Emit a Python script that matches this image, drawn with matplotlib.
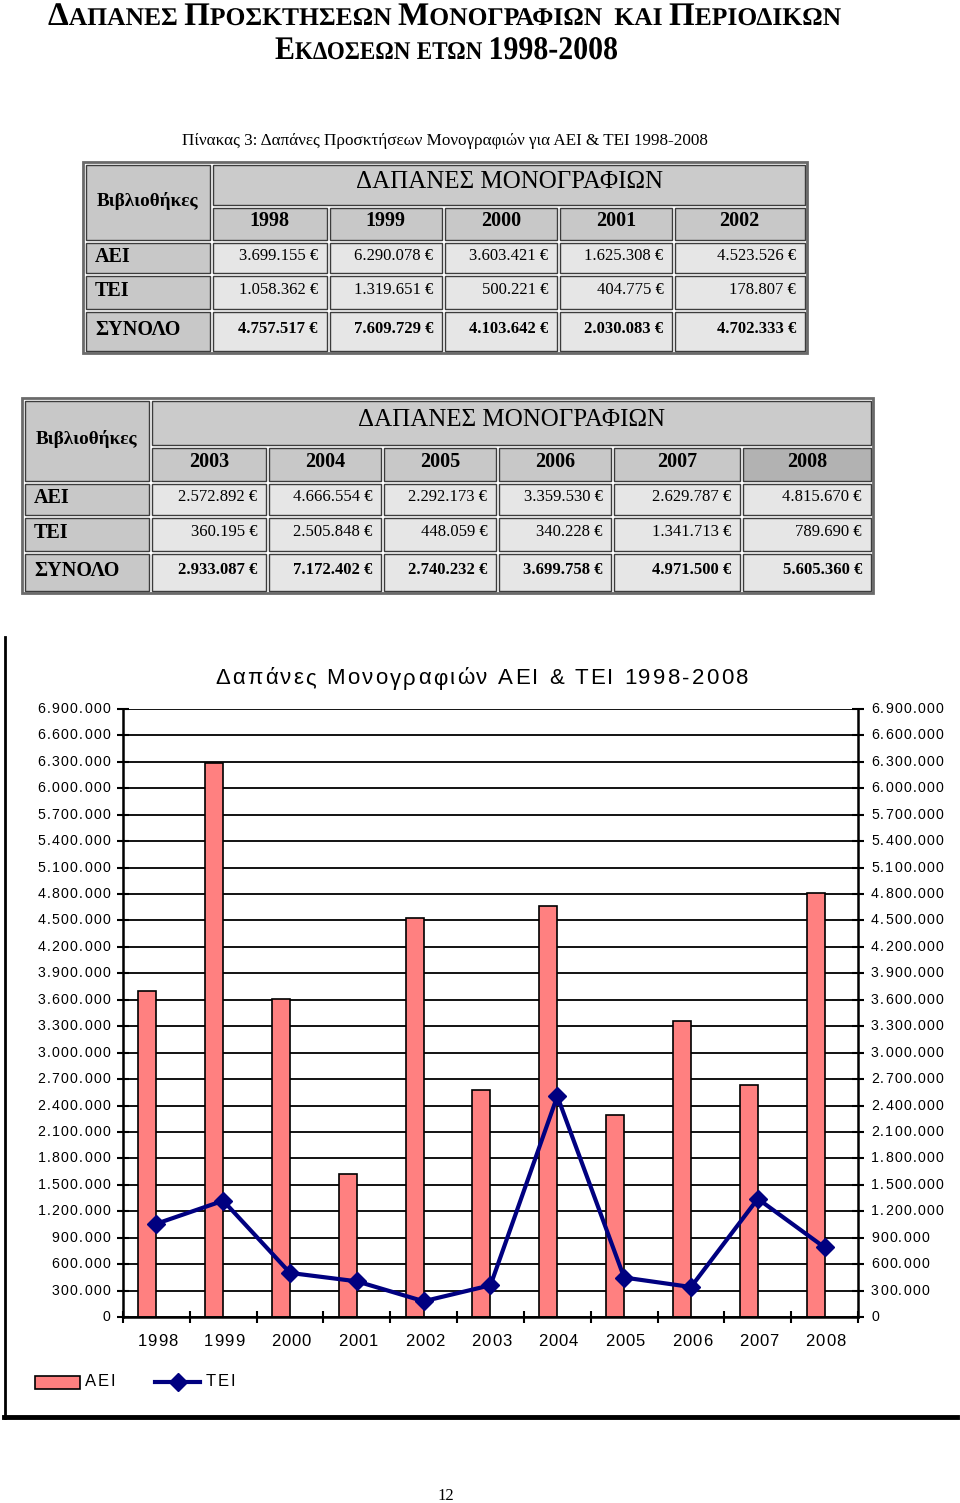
import matplotlib

matplotlib.use('Agg')
import matplotlib.pyplot as plt
from matplotlib.patches import Rectangle, PathPatch
from matplotlib.textpath import TextPath
from matplotlib.font_manager import FontProperties, findfont, get_font
from matplotlib.transforms import Affine2D

# Δεδομένα πινάκων (ευρώ), όπως τυπώνονται στη σελίδα
years_a = ["1998", "1999", "2000", "2001", "2002"]
aei_a = [3699155, 6290078, 3603421, 1625308, 4523526]
tei_a = [1058362, 1319651, 500221, 404775, 178807]
total_a = [4757517, 7609729, 4103642, 2030083, 4702333]

years_b = ["2003", "2004", "2005", "2006", "2007", "2008"]
aei_b = [2572892, 4666554, 2292173, 3359530, 2629787, 4815670]
tei_b = [360195, 2505848, 448059, 340228, 1341713, 789690]
total_b = [2933087, 7172402, 2740232, 3699758, 4971500, 5605360]

row_labels = ["ΑΕΙ", "ΤΕΙ", "ΣΥΝΟΛΟ"]
y_ticks = list(range(0, 6900001, 300000))

SERIF = "Liberation Serif"
SANS = "Liberation Sans"
H = 1503


def euro(v):
    return f"{v:,}".replace(",", ".") + " €"


def dotted(v):
    return f"{int(v):,}".replace(",", ".")


def advance(s, size_px, prop):
    font = get_font(findfont(prop))
    font.set_size(size_px, 72)
    return sum(font.load_char(ord(c)).linearHoriAdvance / 65536 for c in s)


fig = plt.figure(figsize=(9.6, 15.03), dpi=100)
bg = fig.add_axes([0, 0, 1, 1])
bg.set_xlim(0, 960)
bg.set_ylim(H, 0)
bg.axis('off')


# Τίτλος σελίδας: μικρά κεφαλαία, στενή γραμματοσειρά
def title_line(segments, cx, baseline, target_w):
    prop = FontProperties(family=SERIF, weight='bold')
    parts, x = [], 0
    for s, size in segments:
        if s == " ":
            x += 0.25 * size
            continue
        parts.append(TextPath((x, 0), s, size=size, prop=prop))
        x += advance(s, size, prop)
    sx = target_w / x
    tr = Affine2D().scale(sx, -1).translate(cx - target_w / 2, baseline)
    for p in parts:
        bg.add_patch(PathPatch(tr.transform_path(p), fc='black', ec='none'))


B, S = 33, 25.5
line1 = [("Δ", B), ("ΑΠΑΝΕΣ", S), (" ", S), ("Π", B), ("ΡΟΣΚΤΗΣΕΩΝ", S), (" ", S),
         ("Μ", B), ("ΟΝΟΓΡΑΦΙΩΝ", S), (" ", S), ("ΚΑΙ", S), (" ", S), ("Π", B), ("ΕΡΙΟΔΙΚΩΝ", S)]
line2 = [("Ε", B), ("ΚΔΟΣΕΩΝ", S), (" ", S), ("ΕΤΩΝ", S), (" ", S), ("1998-2008", B)]
title_line(line1, 445, 25, 794)
title_line(line2, 446.5, 59, 343)

bg.text(445, 141, "Πίνακας 3: Δαπάνες Προσκτήσεων Μονογραφιών για ΑΕΙ & ΤΕΙ 1998-2008",
        fontsize=12.3, family=SERIF, ha='center', va='center')


def cell(x0, x1, y0, y1, color):
    bg.add_patch(Rectangle((x0 + 1.5, y0 + 1.5), x1 - x0 - 3, y1 - y0 - 3,
                           facecolor=color, edgecolor='#3c3c3c', lw=1.0))


def draw_table(cols, rows, years, aei, tei, totals):
    bg.add_patch(Rectangle((cols[0], rows[0]), cols[-1] - cols[0], rows[-1] - rows[0],
                           facecolor='white', edgecolor='#6a6a6a', lw=2))
    x0, x1 = cols[0] + 1, cols[1]
    cell(x0, x1, rows[0] + 1, rows[2], '#c8c8c8')
    bg.text((x0 + x1) / 2, (rows[0] + rows[2]) / 2 - 1, "Βιβλιοθήκες", fontsize=13.8,
            family=SERIF, fontweight='bold', ha='center', va='center')
    cell(cols[1], cols[-1] - 1, rows[0] + 1, rows[1], '#cbcbcb')
    bg.text((cols[1] + cols[-1]) / 2, (rows[0] + rows[1]) / 2 - 2, "ΔΑΠΑΝΕΣ ΜΟΝΟΓΡΑΦΙΩΝ",
            fontsize=18, family=SERIF, ha='center', va='center')
    n = len(years)
    for i in range(n):
        cx0, cx1 = cols[i + 1], cols[i + 2] - (1 if i == n - 1 else 0)
        col = '#b2b2b2' if years[i] == "2008" else '#c8c8c8'
        cell(cx0, cx1, rows[1], rows[2], col)
        bg.text((cx0 + cx1) / 2, (rows[1] + rows[2]) / 2 - 2, years[i], fontsize=14.5,
                family=SERIF, fontweight='bold', ha='center', va='center')
    for r, (lab, vals) in enumerate(zip(row_labels, [aei, tei, totals])):
        ry0, ry1 = rows[r + 2], rows[r + 3] - (1 if r == 2 else 0)
        cell(x0, x1, ry0, ry1, '#c8c8c8')
        bg.text(x0 + 11, (ry0 + ry1) / 2 - 1, lab, fontsize=14.5, family=SERIF,
                fontweight='bold', ha='left', va='center')
        for i, v in enumerate(vals):
            cx0, cx1 = cols[i + 1], cols[i + 2] - (1 if i == n - 1 else 0)
            cell(cx0, cx1, ry0, ry1, '#e6e6e6')
            bg.text(cx1 - 10, (ry0 + ry1) / 2 - 2, euro(v), fontsize=12, family=SERIF,
                    fontweight='bold' if r == 2 else 'normal', ha='right', va='center')


draw_table([83, 211.5, 328, 443.5, 558.5, 673.5, 807], [162, 206, 241, 274.5, 310, 353],
           years_a, aei_a, tei_a, total_a)
draw_table([22, 150.5, 267.5, 382.5, 497.5, 612.5, 741.5, 873], [398, 446, 482, 516.5, 552, 593],
           years_b, aei_b, tei_b, total_b)


# Κείμενο με αραιωμένα γράμματα (όπως στο γράφημα του Excel)
def spaced(x, y, s, size, gap, ha='left'):
    prop = FontProperties(family=SANS)
    size_px = size * 100 / 72
    font = get_font(findfont(prop))
    font.set_size(size_px, 72)
    advs = [font.load_char(ord(c)).linearHoriAdvance / 65536 for c in s]
    total = sum(advs) + gap * (len(s) - 1)
    if ha == 'right':
        x -= total
    elif ha == 'center':
        x -= total / 2
    for c, a in zip(s, advs):
        bg.text(x, y, c, fontsize=size, family=SANS, ha='left', va='center')
        x += a + gap


# Πλαίσιο γραφήματος
bg.plot([5, 5], [637, 1418], color='black', lw=2)
bg.plot([4, 957], [1417, 1417], color='black', lw=3.5)

# Γράφημα
years = years_a + years_b
aei = aei_a + aei_b
tei = tei_a + tei_b
x = list(range(len(years)))

ax = fig.add_axes([123 / 960, 1 - 1317 / H, 735 / 960, 608 / H])
ax.set_axisbelow(True)
ax.bar(x, aei, width=-0.27, align='edge', color='#FF8080', edgecolor='black', lw=1.2)
ax.plot(x, tei, color='#000080', lw=3, marker='D', markersize=9)
ax.set_xlim(-0.5, len(years) - 0.5)
ax.set_ylim(0, 6900000)
ax.set_yticks(y_ticks)
ax.set_yticklabels([])
ax.yaxis.grid(True, color='black', lw=1.3)
ax.set_xticks([i - 0.5 for i in range(len(years) + 1)])
ax.set_xticklabels([])
ax.tick_params(axis='x', direction='inout', length=9, width=1.5)
ax.tick_params(axis='y', direction='inout', length=9, width=1.5, right=True)
for s in ['left', 'right', 'bottom']:
    ax.spines[s].set_linewidth(1.8)
ax.spines['top'].set_visible(False)

# Ετικέτες αξόνων μέσω των μετασχηματισμών του άξονα
for v in y_ticks:
    yp = H - ax.transData.transform((0, v))[1]
    spaced(110, yp, dotted(v), 10.2, 1.2, ha='right')
    spaced(871, yp, dotted(v), 10.2, 1.2, ha='left')
for xi, lab in zip(x, years):
    xp = ax.transData.transform((xi, 0))[0]
    spaced(xp + 1, 1341, lab, 12, 1.0, ha='center')

spaced(481.5, 679, "Δαπάνες Μονογραφιών ΑΕΙ & ΤΕΙ 1998-2008", 16, 2.2, ha='center')

# Υπόμνημα
bg.add_patch(Rectangle((35, 1376), 45, 13, facecolor='#FF8080', edgecolor='black', lw=1.2))
spaced(85, 1382, "ΑΕΙ", 12, 1.8)
bg.plot([155, 200], [1382, 1382], color='#000080', lw=3)
bg.plot([178], [1382], color='#000080', marker='D', markersize=9)
spaced(206, 1382, "ΤΕΙ", 12, 1.8)

bg.text(446, 1496, "12", fontsize=12, family=SERIF, ha='center', va='center')

plt.savefig('out.png', dpi=100)
plt.close()
